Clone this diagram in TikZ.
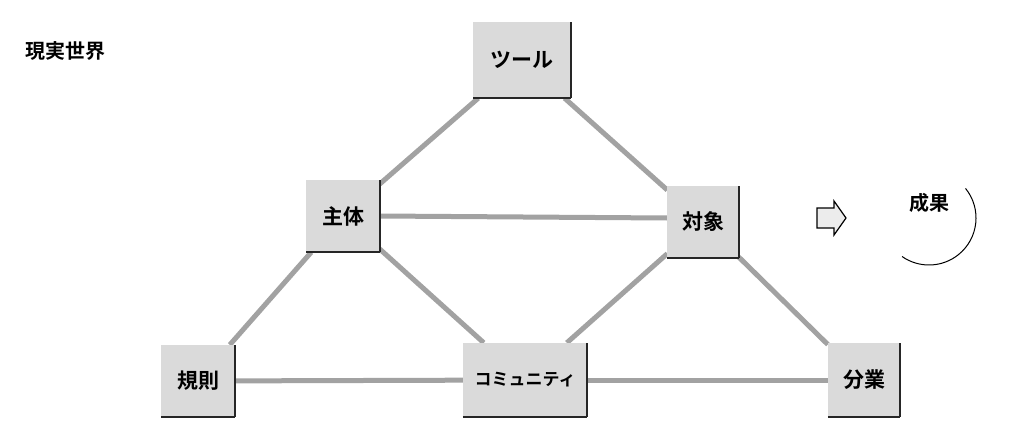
\documentclass[tikz,border=0pt]{standalone}
\usepackage{fontspec}
\newfontfamily\jp{Noto Sans CJK JP}[BoldFont={Noto Sans CJK JP Bold}]
\begin{document}
\begin{tikzpicture}[x=1pt,y=-1pt,
  box/.style={fill=boxgray,inner sep=0pt,font=\jp\bfseries\fontsize{21}{24}\selectfont},
  link/.style={draw=linkgray,line width=5pt},
  edge/.style={draw=black!85,line width=1.6pt}]
\definecolor{boxgray}{HTML}{DADADA}
\definecolor{linkgray}{HTML}{A2A2A2}
\useasboundingbox (0,0) rectangle (1032,444);
\fill[white] (0,0) rectangle (1032,444);
% nodes
\node[box,minimum width=97pt,minimum height=76pt] (tool) at (522,60) {ツール};
\node[box,minimum width=73pt,minimum height=72pt] (subj) at (343,216) {主体};
\node[box,minimum width=71pt,minimum height=71pt] (obj) at (703,222) {対象};
\node[box,minimum width=73pt,minimum height=72pt] (rule) at (198,381) {規則};
\node[box,minimum width=124pt,minimum height=74pt] (comm) at (525,380) {};
\node[box,minimum width=72pt,minimum height=74pt] (div) at (864,380) {分業};
% links
\path[link] (tool) -- (subj);
\path[link] (tool) -- (obj);
\path[link] (subj.east) -- ([yshift=4pt]obj.west);
\path[link] (subj) -- (rule);
\path[link] (subj) -- (comm);
\path[link] (obj) -- (comm);
\path[link] (obj) -- (div);
\path[link] (rule) -- (comm);
\path[link] (comm) -- (div);
% redraw boxes on top
\foreach \n/\t in {tool/ツール,subj/主体,obj/対象,rule/規則,div/分業,comm/{}}{
  \fill[boxgray] (\n.south west) rectangle (\n.north east);
  \node[box,fill=none] at (\n.center) {\t};
  \draw[edge] (\n.south east) -- (\n.north east);
  \draw[edge] (\n.south west) -- (\n.south east);
}
\node[box,fill=none,font=\jp\bfseries\fontsize{17}{20}\selectfont] (commlabel) at (comm.center) {コミュニティ};
% title
\node[font=\jp\bfseries\fontsize{20}{24}\selectfont,anchor=west,inner sep=0pt] (title) at (25,51) {現実世界};
% outcome arrow
\node[inner sep=0pt] (arr) at (831,218) {};
\draw[line width=1.2pt,fill=boxgray!50] (817,208) -- (834,208) -- (834,201) -- (846,218) -- (834,235) -- (834,228) -- (817,228) -- cycle;
% outcome
\node[font=\jp\bfseries\fontsize{20}{24}\selectfont] (res) at (929,203) {成果};
\coordinate (rc) at (929,218);
\draw[line width=1pt] ([shift={(-39:47)}]rc) arc[start angle=-39,end angle=125,radius=47];
\end{tikzpicture}
\end{document}
